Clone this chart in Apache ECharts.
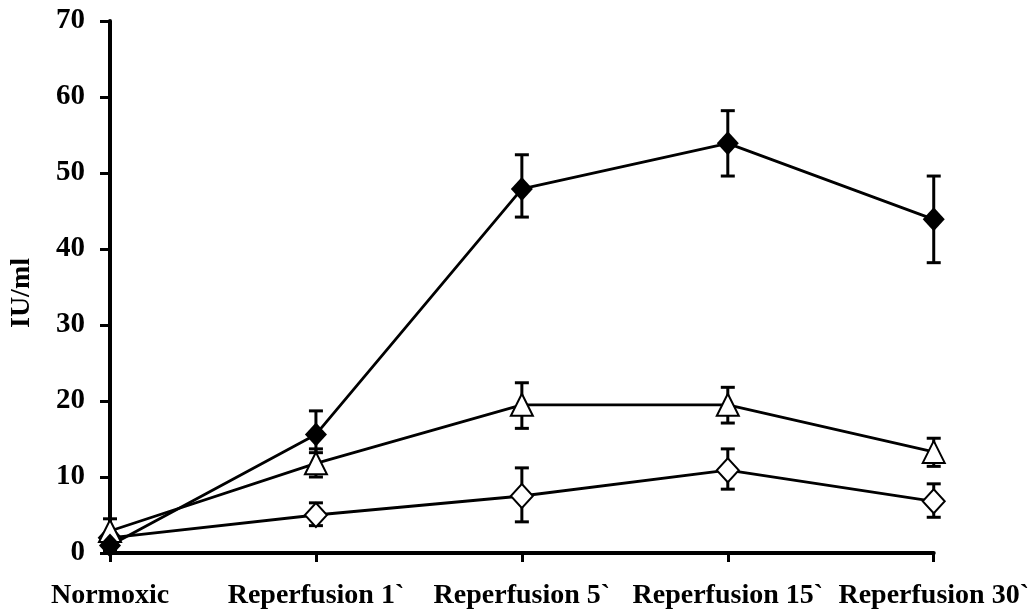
<!DOCTYPE html>
<html>
<head>
<meta charset="utf-8">
<script src="https://cdn.jsdelivr.net/npm/echarts@6/dist/echarts.min.js"></script>
<style>
html,body{margin:0;padding:0;background:#fff;}
#chart{width:1032px;height:613px;}
</style>
</head>
<body>
<div id="chart"></div>
<script>
var categories = ['Normoxic', 'Reperfusion 1`', 'Reperfusion 5`', 'Reperfusion 15`', 'Reperfusion 30`'];
var yTicks = [0, 10, 20, 30, 40, 50, 60, 70];

// Filled diamond series
var filledMean = [1.0, 15.6, 47.9, 53.9, 43.9];
var filledLow  = [0.3, 13.2, 44.2, 49.6, 38.2];
var filledHigh = [1.7, 18.7, 52.4, 58.2, 49.6];

// Open triangle series
var triMean = [2.9, 11.8, 19.5, 19.5, 13.3];
var triLow  = [1.8, 10.0, 16.4, 17.1, 11.4];
var triHigh = [4.5, 13.7, 22.4, 21.8, 15.1];

// Open diamond series
var openMean = [2.0, 5.0, 7.5, 10.9, 6.8];
var openLow  = [1.5, 3.6, 4.1, 8.4, 4.7];
var openHigh = [2.5, 6.6, 11.2, 13.7, 9.1];

function errData(low, high) {
  return categories.map(function (c, i) { return [i, low[i], high[i]]; });
}

function errSeries(low, high) {
  return {
    type: 'custom',
    z: 1,
    silent: true,
    data: errData(low, high),
    encode: { x: 0, y: [1, 2] },
    renderItem: function (params, api) {
      var x = api.value(0);
      var lo = api.coord([x, api.value(1)]);
      var hi = api.coord([x, api.value(2)]);
      var half = 7;
      var st = { stroke: '#000', lineWidth: 3 };
      return {
        type: 'group',
        children: [
          { type: 'line', shape: { x1: lo[0], y1: lo[1], x2: hi[0], y2: hi[1] }, style: st },
          { type: 'line', shape: { x1: hi[0] - half, y1: hi[1], x2: hi[0] + half, y2: hi[1] }, style: st },
          { type: 'line', shape: { x1: lo[0] - half, y1: lo[1], x2: lo[0] + half, y2: lo[1] }, style: st }
        ]
      };
    }
  };
}

function lineSeries(data, symbol, size, fill) {
  return {
    type: 'line',
    z: 3,
    data: data,
    symbol: symbol,
    symbolSize: size,
    showAllSymbol: true,
    lineStyle: { color: '#000', width: 2.8 },
    itemStyle: { color: fill, borderColor: '#000', borderWidth: fill === '#000' ? 0 : 2 },
    emphasis: { disabled: true }
  };
}

var font = "'Liberation Serif', 'Times New Roman', serif";
var chart = echarts.init(document.getElementById('chart'), null, { renderer: 'canvas' });
chart.setOption({
  animation: false,
  backgroundColor: '#fff',
  grid: { left: 110, right: 98, top: 21, bottom: 60, containLabel: false },
  xAxis: {
    type: 'category',
    data: categories,
    boundaryGap: false,
    axisLine: { lineStyle: { color: '#000', width: 4 } },
    axisTick: { show: true, length: 9, lineStyle: { color: '#000', width: 3 } },
    axisLabel: { color: '#000', fontFamily: font, fontWeight: 'bold', fontSize: 28, margin: 29, interval: 0 },
    splitLine: { show: false }
  },
  yAxis: {
    type: 'value',
    min: yTicks[0],
    max: yTicks[yTicks.length - 1],
    interval: 10,
    name: 'IU/ml',
    nameLocation: 'middle',
    nameGap: 74,
    nameRotate: 90,
    nameTextStyle: { color: '#000', fontFamily: font, fontWeight: 'bold', fontSize: 28, padding: [0, 12, 0, 0] },
    axisLine: { show: true, lineStyle: { color: '#000', width: 4 } },
    axisTick: { show: true, length: 10, lineStyle: { color: '#000', width: 3 } },
    axisLabel: { color: '#000', fontFamily: font, fontWeight: 'bold', fontSize: 29, margin: 25 },
    splitLine: { show: false }
  },
  series: [
    errSeries(openLow, openHigh),
    errSeries(triLow, triHigh),
    errSeries(filledLow, filledHigh),
    lineSeries(openMean, 'diamond', [22, 24], '#fff'),
    lineSeries(triMean, 'triangle', [22, 22], '#fff'),
    lineSeries(filledMean, 'diamond', [22, 24], '#000')
  ]
});
</script>
</body>
</html>
